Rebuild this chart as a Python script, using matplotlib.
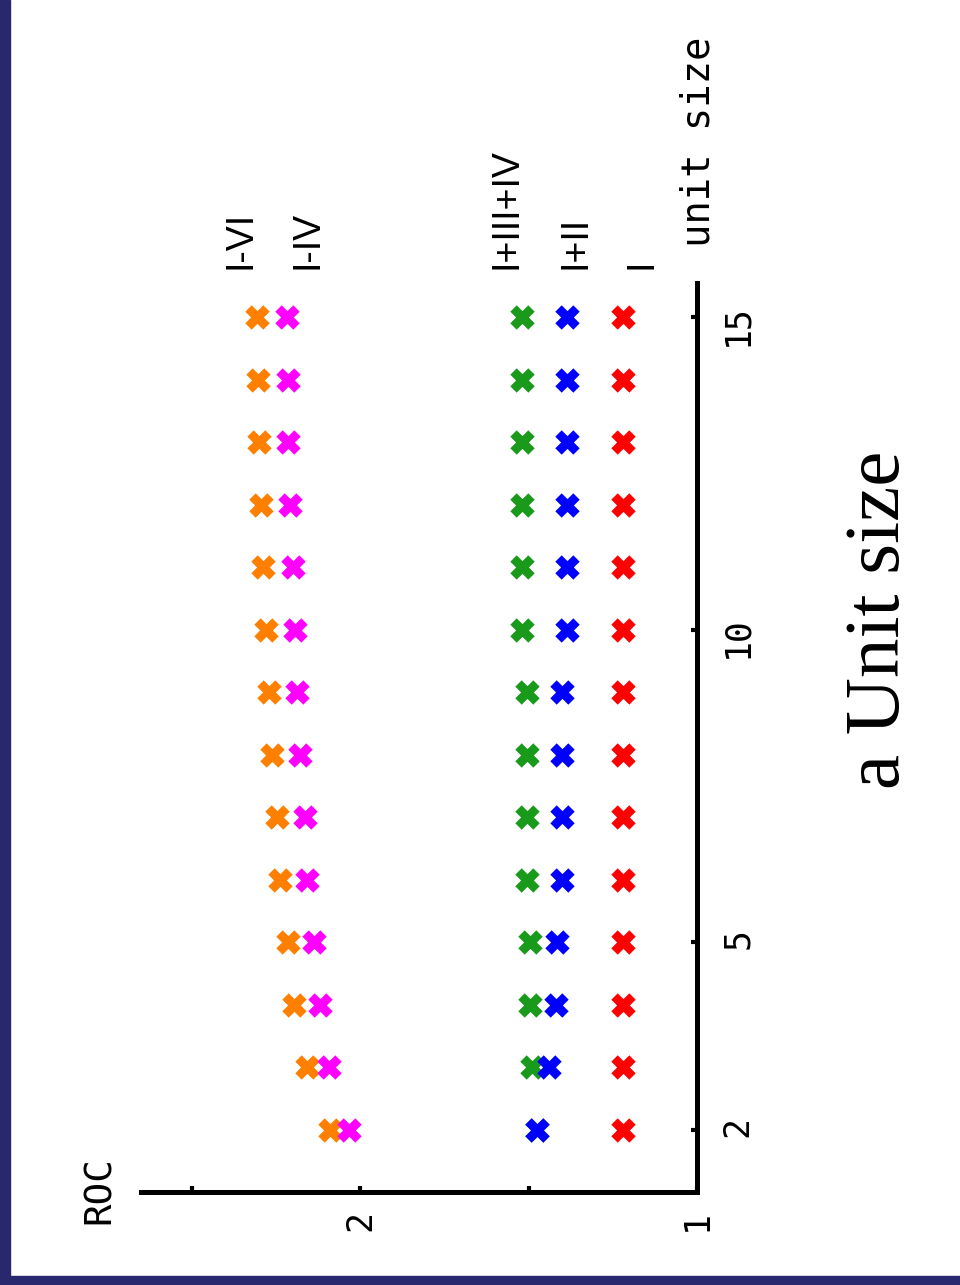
import matplotlib
matplotlib.use("Agg")
import matplotlib.pyplot as plt
from matplotlib.patches import Rectangle

# unit sizes on the horizontal (rotated) axis
unit_size = [2, 3, 4, 5, 6, 7, 8, 9, 10, 11, 12, 13, 14, 15]

# ROC per configuration
roc_i = [1.220, 1.220, 1.220, 1.220, 1.220, 1.220, 1.220,
         1.220, 1.220, 1.220, 1.220, 1.220, 1.220, 1.220]
roc_i_ii = [1.475, 1.439, 1.418, 1.415, 1.401, 1.401, 1.401,
            1.401, 1.386, 1.386, 1.386, 1.386, 1.386, 1.386]
roc_i_iii_iv = [1.475, 1.490, 1.496, 1.496, 1.504, 1.504, 1.504,
                1.504, 1.519, 1.519, 1.519, 1.519, 1.519, 1.519]
roc_i_iv = [2.033, 2.092, 2.119, 2.136, 2.157, 2.163, 2.178,
            2.187, 2.193, 2.199, 2.208, 2.214, 2.214, 2.217]
roc_i_vi = [2.089, 2.157, 2.196, 2.214, 2.237, 2.246, 2.261,
            2.270, 2.279, 2.288, 2.294, 2.300, 2.303, 2.306]

series = [
    ("I", roc_i, "#ff0000"),
    ("I+III+IV", roc_i_iii_iv, "#1a9a1a"),
    ("I+II", roc_i_ii, "#0000ff"),
    ("I-VI", roc_i_vi, "#ff8000"),
    ("I-IV", roc_i_iv, "#ff00ff"),
]

# where the series names sit (ROC position of the label)
label_roc = {"I": 1.166, "I+II": 1.362, "I+III+IV": 1.564,
             "I-IV": 2.157, "I-VI": 2.356}

W, H = 960, 1285
fig = plt.figure(figsize=(W / 100, H / 100), dpi=100)
fig.patch.set_facecolor("white")

ax = fig.add_axes([141 / W, 1 - 1192 / H, 556 / W, 909 / H])
ax.set_xlim(2.65, 1.0)
ax.set_ylim(1.0, 15.55)

for name, vals, col in series:
    ax.plot(vals, unit_size, linestyle="none", marker="x", ms=13.5, mew=6.5,
            color=col, clip_on=False)

mono = "DejaVu Sans Mono"
for side in ("top", "left"):
    ax.spines[side].set_visible(False)
for side in ("right", "bottom"):
    ax.spines[side].set_linewidth(3.6)

ax.yaxis.tick_right()
ax.set_yticks([2, 5, 10, 15])
ax.tick_params(axis="y", direction="in", length=4.5, width=3, pad=17,
               labelsize=25, labelrotation=90)
ax.set_xticks([1, 1.5, 2, 2.5])
ax.set_xticklabels(["1", "", "2", ""])
ax.tick_params(axis="x", direction="in", length=4.5, width=3, pad=13,
               labelsize=25, labelrotation=90)
for lbl in ax.get_xticklabels() + ax.get_yticklabels():
    lbl.set_fontfamily(mono)

# series names above the last point
for name, vals, col in series:
    ax.text(label_roc[name], 15.77, name, rotation=90, ha="center",
            va="bottom", fontsize=27, family="Liberation Sans", clip_on=False)

fig.text(699 / W, 1 - 142 / H, "unit size", rotation=90, ha="center",
         va="center", fontsize=28, family=mono)
fig.text(100 / W, 1 - 1190 / H, "ROC", rotation=90, ha="center",
         va="center", fontsize=27, family=mono)
fig.text(880 / W, 1 - 620 / H, "a Unit size", rotation=90, ha="center",
         va="center", fontsize=57, family="Liberation Serif")

# dark frame along the left and bottom edges
navy = "#29286f"
fig.patches.append(Rectangle((0, 0), 10 / W, 1, transform=fig.transFigure,
                             color=navy, zorder=10))
fig.patches.append(Rectangle((0, 0), 1, 9 / H, transform=fig.transFigure,
                             color=navy, zorder=10))

fig.savefig("out.png", dpi=100)
